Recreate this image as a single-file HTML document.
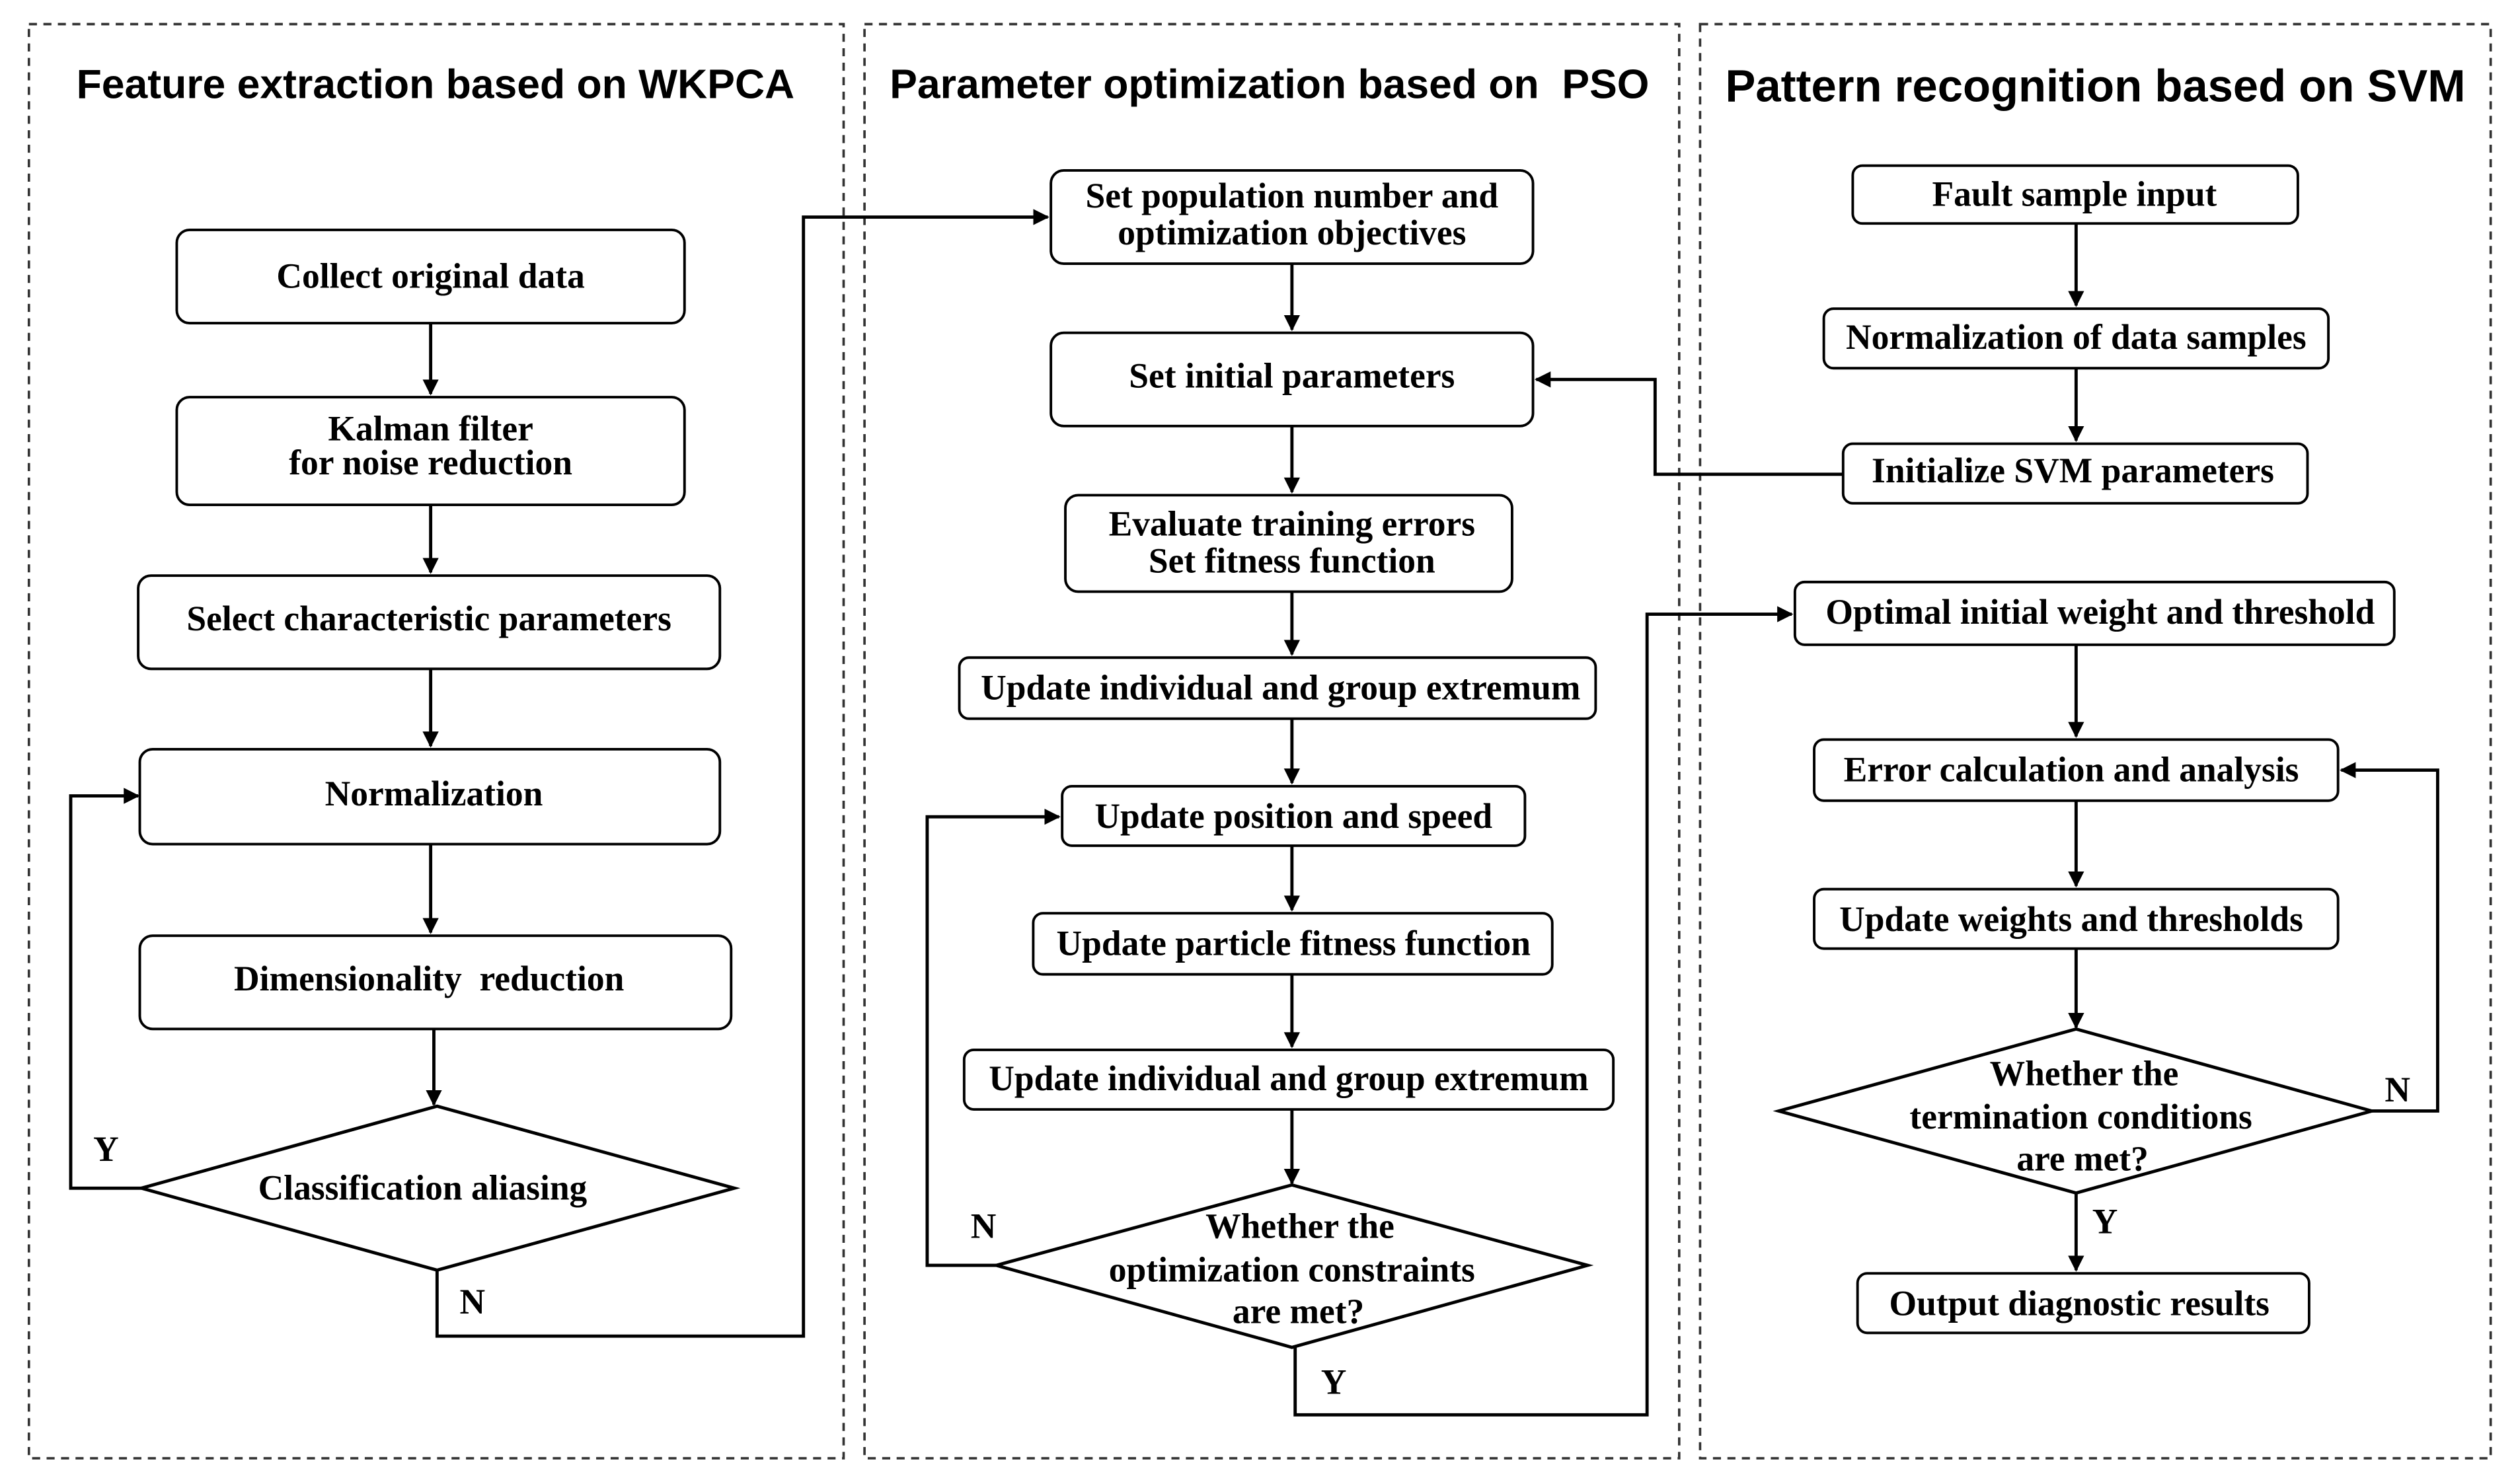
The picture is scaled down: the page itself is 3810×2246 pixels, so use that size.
<!DOCTYPE html>
<html><head><meta charset="utf-8"><style>
html,body{margin:0;padding:0;background:#fff;}
svg{display:block;}
.t{font-family:"Liberation Serif",serif;font-weight:bold;font-size:22px;fill:#000;text-anchor:middle;}
.h{font-family:"Liberation Sans",sans-serif;font-weight:bold;fill:#000;text-anchor:middle;}
rect.b{fill:#fff;stroke:#000;stroke-width:1.6;}
.l{fill:none;stroke:#000;stroke-width:2;}
.d{fill:none;stroke:#333;stroke-width:1.5;stroke-dasharray:5,4;}
</style></head><body>
<svg width="3810" height="2246" viewBox="0 0 1567 923" preserveAspectRatio="none" xmlns="http://www.w3.org/2000/svg">
<defs><marker id="a" markerWidth="10" markerHeight="10" refX="9" refY="5" orient="auto" markerUnits="userSpaceOnUse"><path d="M0,0 L10,5 L0,10 z" fill="#000"/></marker></defs>
<rect class="d" x="18" y="15" width="507" height="892"/>
<rect class="d" x="538" y="15" width="507" height="892"/>
<rect class="d" x="1058" y="15" width="492" height="892"/>
<text class="h" x="271" y="61" font-size="25.7">Feature extraction based on WKPCA</text>
<text class="h" x="790" y="61" font-size="25.7" xml:space="preserve">Parameter optimization based on  PSO</text>
<text class="h" x="1304" y="63" font-size="28.3">Pattern recognition based on SVM</text>

<!-- panel 1 -->
<rect class="b" x="110" y="143" width="316" height="58" rx="8"/><text class="t" x="268" y="179">Collect original data</text>
<rect class="b" x="110" y="247" width="316" height="67" rx="8"/><text class="t" x="268" y="274">Kalman filter</text><text class="t" x="268" y="295">for noise reduction</text>
<rect class="b" x="86" y="358" width="362" height="58" rx="8"/><text class="t" x="267" y="392">Select characteristic parameters</text>
<rect class="b" x="87" y="466" width="361" height="59" rx="8"/><text class="t" x="270" y="501">Normalization</text>
<rect class="b" x="87" y="582" width="368" height="58" rx="8"/><text class="t" x="267" y="616" xml:space="preserve">Dimensionality  reduction</text>
<path class="l" d="M88,739 L272,688 L457,739 L272,790 Z" fill="#fff"/><text class="t" x="263" y="746">Classification aliasing</text>
<path class="l" marker-end="url(#a)" d="M268,201 V245"/>
<path class="l" marker-end="url(#a)" d="M268,314 V356"/>
<path class="l" marker-end="url(#a)" d="M268,416 V464"/>
<path class="l" marker-end="url(#a)" d="M268,525 V580"/>
<path class="l" marker-end="url(#a)" d="M270,640 V687"/>
<path class="l" marker-end="url(#a)" d="M88,739 H44 V495 H86"/>
<text class="t" x="66" y="722">Y</text>
<path class="l" marker-end="url(#a)" d="M272,790 V831 H500 V135 H652"/>
<text class="t" x="294" y="817">N</text>

<!-- panel 2 -->
<rect class="b" x="654" y="106" width="300" height="58" rx="8"/><text class="t" x="804" y="129">Set population number and</text><text class="t" x="804" y="152">optimization objectives</text>
<rect class="b" x="654" y="207" width="300" height="58" rx="8"/><text class="t" x="804" y="241">Set initial parameters</text>
<rect class="b" x="663" y="308" width="278" height="60" rx="8"/><text class="t" x="804" y="333">Evaluate training errors</text><text class="t" x="804" y="356">Set fitness function</text>
<rect class="b" x="597" y="409" width="396" height="38" rx="6"/><text class="t" x="797" y="435">Update individual and group extremum</text>
<rect class="b" x="661" y="489" width="288" height="37" rx="6"/><text class="t" x="805" y="515">Update position and speed</text>
<rect class="b" x="643" y="568" width="323" height="38" rx="6"/><text class="t" x="805" y="594">Update particle fitness function</text>
<rect class="b" x="600" y="653" width="404" height="37" rx="6"/><text class="t" x="802" y="678">Update individual and group extremum</text>
<path class="l" d="M620,787 L804,737 L988,787 L804,838 Z" fill="#fff"/>
<text class="t" x="809" y="770">Whether the</text><text class="t" x="804" y="797">optimization constraints</text><text class="t" x="808" y="823">are met?</text>
<path class="l" marker-end="url(#a)" d="M804,164 V205"/>
<path class="l" marker-end="url(#a)" d="M804,265 V306"/>
<path class="l" marker-end="url(#a)" d="M804,368 V407"/>
<path class="l" marker-end="url(#a)" d="M804,447 V487"/>
<path class="l" marker-end="url(#a)" d="M804,526 V566"/>
<path class="l" marker-end="url(#a)" d="M804,606 V651"/>
<path class="l" marker-end="url(#a)" d="M804,690 V736"/>
<path class="l" marker-end="url(#a)" d="M620,787 H577 V508 H659"/>
<text class="t" x="612" y="770">N</text>
<path class="l" marker-end="url(#a)" d="M806,838 V880 H1025 V382 H1115"/>
<text class="t" x="830" y="867">Y</text>

<!-- panel 3 -->
<rect class="b" x="1153" y="103" width="277" height="36" rx="6"/><text class="t" x="1291" y="128">Fault sample input</text>
<rect class="b" x="1135" y="192" width="314" height="37" rx="6"/><text class="t" x="1292" y="217">Normalization of data samples</text>
<rect class="b" x="1147" y="276" width="289" height="37" rx="6"/><text class="t" x="1290" y="300">Initialize SVM parameters</text>
<rect class="b" x="1117" y="362" width="373" height="39" rx="6"/><text class="t" x="1307" y="388">Optimal initial weight and threshold</text>
<rect class="b" x="1129" y="460" width="326" height="38" rx="6"/><text class="t" x="1289" y="486">Error calculation and analysis</text>
<rect class="b" x="1129" y="553" width="326" height="37" rx="6"/><text class="t" x="1289" y="579">Update weights and thresholds</text>
<rect class="b" x="1156" y="792" width="281" height="37" rx="6"/><text class="t" x="1294" y="818">Output diagnostic results</text>
<path class="l" d="M1107,691 L1292,640 L1476,691 L1292,742 Z" fill="#fff"/>
<text class="t" x="1297" y="675">Whether the</text><text class="t" x="1295" y="702">termination conditions</text><text class="t" x="1296" y="728">are met?</text>
<path class="l" marker-end="url(#a)" d="M1292,139 V190"/>
<path class="l" marker-end="url(#a)" d="M1292,229 V274"/>
<path class="l" marker-end="url(#a)" d="M1147,295 H1030 V236 H956"/>
<path class="l" marker-end="url(#a)" d="M1292,401 V458"/>
<path class="l" marker-end="url(#a)" d="M1292,498 V551"/>
<path class="l" marker-end="url(#a)" d="M1292,590 V639"/>
<path class="l" marker-end="url(#a)" d="M1476,691 H1517 V479 H1457"/>
<text class="t" x="1492" y="685">N</text>
<path class="l" marker-end="url(#a)" d="M1292,742 V790"/>
<text class="t" x="1310" y="767">Y</text>
</svg>
</body></html>
